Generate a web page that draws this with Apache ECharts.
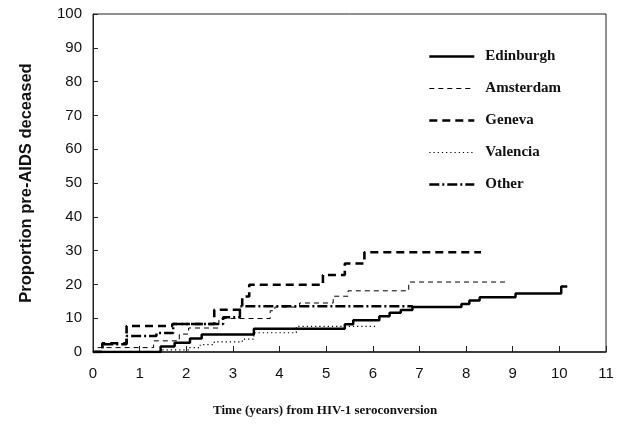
<!DOCTYPE html>
<html>
<head>
<meta charset="utf-8">
<script src="https://cdn.jsdelivr.net/npm/echarts@6/dist/echarts.min.js"></script>
<style>html,body{margin:0;padding:0;background:#fff;}#c{width:620px;height:424px;}</style>
</head>
<body>
<div id="c"></div>
<script>
var xTicks = [0,1,2,3,4,5,6,7,8,9,10,11];
var yTicks = [0,10,20,30,40,50,60,70,80,90,100];
var seriesNames = ['Edinburgh','Amsterdam','Geneva','Valencia','Other'];

var edinburgh = [[0,0],[1.45,1.6],[1.75,2.7],[2.08,4.0],[2.33,5.2],[3.45,6.9],[5.4,8.2],[5.58,9.4],[6.14,10.6],[6.36,11.6],[6.6,12.4],[6.85,13.3],[7.9,14.2],[8.07,15.2],[8.29,16.2],[9.06,17.3],[10.04,19.4],[10.17,19.4]];
var amsterdam = [[0,0],[0.1,1.3],[1.3,3.3],[1.85,5.3],[2.05,7.1],[2.7,9.9],[3.8,12.2],[3.9,13.3],[4.43,14.5],[5.15,16.5],[5.47,18.1],[6.77,20.7],[8.9,20.7]];
var geneva = [[0,0],[0.2,2.6],[0.72,7.7],[1.7,8.3],[2.6,12.5],[3.2,16.4],[3.35,19.9],[4.93,22.8],[5.4,26.2],[5.82,29.5],[8.32,29.5]];
var valencia = [[0,0],[1.45,0.6],[2.05,1.3],[2.3,2.2],[2.6,3.0],[3.2,3.8],[3.45,5.7],[4.36,7.6],[6.05,7.6]];
var other = [[0,0],[0.2,2.3],[0.72,4.7],[1.36,5.6],[1.72,8.3],[2.79,10.3],[3.15,13.5],[6.86,13.5]];

var chart = echarts.init(document.getElementById('c'), null, {renderer:'canvas'});
var serif = '"Liberation Serif","Times New Roman",serif';
var sans = '"Liberation Sans",Arial,sans-serif';
var styles = {
  Edinburgh:{type:'solid', width:2.5},
  Amsterdam:{type:[5,4], width:1},
  Geneva:{type:[8,5], width:2.6},
  Valencia:{type:[1.2,3], width:1.2},
  Other:{type:[10,3,2,3], width:2.5}
};
function mk(name, data) {
  var s = styles[name];
  return {name:name, type:'line', step:'end', data:data, symbol:'none', showSymbol:false, animation:false,
    itemStyle:{color:'#000'},
    lineStyle:{color:'#000', width:s.width, type:s.type, cap:'butt'}};
}
chart.setOption({
  backgroundColor:'#fff',
  animation:false,
  grid:{left:93, right:14, top:14, bottom:72, show:true, borderColor:'#222', borderWidth:1, backgroundColor:'transparent'},
  xAxis:{type:'value', min:0, max:11, interval:1,
    axisLine:{lineStyle:{color:'#222', width:1.5}}, axisTick:{inside:true, length:6, lineStyle:{color:'#222'}},
    splitLine:{show:false},
    axisLabel:{color:'#111', fontFamily:sans, fontSize:15, margin:14, formatter:function(v){return xTicks.indexOf(v)>=0?String(v):'';}}},
  yAxis:{type:'value', min:0, max:100, interval:10,
    name:'Proportion pre-AIDS deceased', nameLocation:'middle', nameGap:58, nameRotate:90,
    nameTextStyle:{fontFamily:sans, fontWeight:'bold', fontSize:16.5, color:'#111'},
    axisLine:{show:true, lineStyle:{color:'#222', width:1}}, axisTick:{show:true, inside:true, length:5, lineStyle:{color:'#222'}},
    splitLine:{show:false},
    axisLabel:{color:'#111', fontFamily:sans, fontSize:15, margin:11, formatter:function(v){return yTicks.indexOf(v)>=0?String(v):'';}}},
  legend:{show:true, orient:'vertical', left:423, top:44, itemWidth:45, itemHeight:12, itemGap:17,
    data:seriesNames.map(function(n){return {name:n, lineStyle:{color:'#000', width:styles[n].width, type:styles[n].type}};}),
    selectedMode:false,
    itemStyle:{opacity:0},
    textStyle:{fontFamily:serif, fontWeight:'bold', fontSize:15, color:'#111', padding:[0,0,0,6]}},
  graphic:[{type:'text', left:213, top:404, z:10,
    style:{text:'Time (years) from HIV-1 seroconversion', font:'bold 13px '+serif, fill:'#111'}}],
  series:seriesNames.map(function(n, i){ return mk(n, [edinburgh, amsterdam, geneva, valencia, other][i]); })
});
</script>
</body>
</html>
